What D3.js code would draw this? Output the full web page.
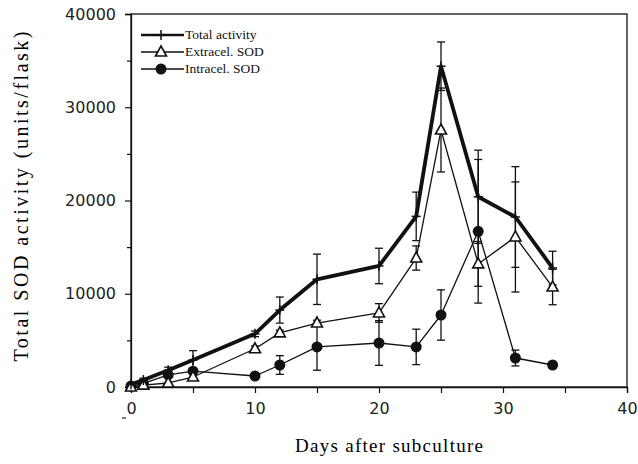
<!DOCTYPE html>
<html>
<head>
<meta charset="utf-8">
<script src="https://cdn.jsdelivr.net/npm/d3@7"></script>
<style>
  body { margin: 0; background: #fff; }
  svg { display: block; }
</style>
</head>
<body>
<div id="chart"></div>
<script>
// data
var days = [0, 1, 3, 5, 10, 12, 15, 20, 23, 25, 28, 31, 34];
var totalActivity = [300, 750, 1800, 2900, 5700, 8250, 11550, 12980, 18300, 34400, 20400, 18230, 12760];
var totalErr      = [0, 200, 330, 1000, 300, 1400, 2700, 1900, 2600, 2600, 5000, 5400, 1800];
var extracelSOD   = [0, 200, 430, 1070, 4100, 5800, 6860, 7940, 13830, 27560, 13200, 16090, 10720];
var extracelErr   = [0, 0, 0, 0, 300, 300, 300, 1000, 1300, 4500, 2400, 5900, 1900];
var intracelSOD   = [100, 400, 1290, 1700, 1180, 2360, 4300, 4720, 4300, 7720, 16700, 3110, 2360];
var intracelErr   = [0, 0, 0, 0, 300, 1000, 2500, 2400, 1900, 2700, 7700, 850, 0];

var xTicks = [0, 10, 20, 30, 40];
var yTicks = [0, 10000, 20000, 30000, 40000];
var legendLabels = ["Total activity", "Extracel. SOD", "Intracel. SOD"];

// set the dimensions and margins of the graph
var margin = { top: 14, right: 11, bottom: 77, left: 131 },
    width = 638 - margin.left - margin.right,
    height = 464 - margin.top - margin.bottom;

var svg = d3.select("#chart")
    .append("svg")
    .attr("width", 638)
    .attr("height", 464)
    .append("g")
    .attr("transform", "translate(" + margin.left + "," + margin.top + ")");

var x = d3.scaleLinear().domain([0, 40]).range([0, width]);
var y = d3.scaleLinear().domain([0, 40000]).range([height, 0]);

// frame
svg.append("rect")
    .attr("width", width)
    .attr("height", height)
    .attr("fill", "none")
    .attr("stroke", "#111")
    .attr("stroke-width", 1.3);

// axes
var xAxis = svg.append("g")
    .attr("transform", "translate(0," + height + ")")
    .call(d3.axisBottom(x).tickValues(d3.range(0, 41, 5)).tickSize(6).tickFormat(function(d){
        return xTicks.indexOf(d) >= 0 ? d : "";
    }));
var yAxis = svg.append("g")
    .call(d3.axisLeft(y).tickValues(d3.range(0, 40001, 5000)).tickSize(6).tickFormat(function(d){
        return yTicks.indexOf(d) >= 0 ? d : "";
    }));

[xAxis, yAxis].forEach(function(a){
    a.select(".domain").attr("stroke", "#111").attr("stroke-width", 1.3);
    a.selectAll(".tick line").attr("stroke", "#111").attr("stroke-width", 1.2);
    a.selectAll(".tick text")
        .attr("font-family", "DejaVu Sans, sans-serif")
        .attr("font-size", 16)
        .attr("fill", "#222");
});
yAxis.selectAll(".tick").filter(function(d){ return d % 10000 != 0; })
    .select("line").attr("x2", -4);
yAxis.selectAll(".tick text").attr("x", -15);
xAxis.selectAll(".tick text").attr("y", 16);

// axis titles
svg.append("text")
    .attr("x", width / 2 + 10)
    .attr("y", height + 65)
    .attr("text-anchor", "middle")
    .attr("font-family", "Liberation Serif, serif")
    .attr("font-size", 19)
    .attr("textLength", 188)
    .attr("lengthAdjust", "spacing")
    .text("Days after subculture");

svg.append("text")
    .attr("transform", "translate(" + (-103) + "," + (height / 2 - 4) + ") rotate(-90)")
    .attr("text-anchor", "middle")
    .attr("font-family", "Liberation Serif, serif")
    .attr("font-size", 20)
    .attr("textLength", 330)
    .attr("lengthAdjust", "spacing")
    .text("Total SOD activity (units/flask)");

var series = [
    { values: totalActivity, err: totalErr, width: 3.8, marker: "cross" },
    { values: extracelSOD, err: extracelErr, width: 1.3, marker: "triangle" },
    { values: intracelSOD, err: intracelErr, width: 1.3, marker: "circle" }
];

// error bars
series.forEach(function(s){
    var g = svg.append("g").attr("stroke", "#111").attr("stroke-width", 1.3);
    days.forEach(function(d, i){
        if (!s.err[i]) return;
        var cx = x(d), top = y(s.values[i] + s.err[i]), bot = y(Math.max(0, s.values[i] - s.err[i]));
        g.append("line").attr("x1", cx).attr("x2", cx).attr("y1", top).attr("y2", bot);
        g.append("line").attr("x1", cx - 4).attr("x2", cx + 4).attr("y1", top).attr("y2", top);
        g.append("line").attr("x1", cx - 4).attr("x2", cx + 4).attr("y1", bot).attr("y2", bot);
    });
});

var line = d3.line()
    .x(function(d){ return x(d[0]); })
    .y(function(d){ return y(d[1]); });

function drawMarker(g, type, cx, cy) {
    if (type == "cross") {
        g.append("line").attr("x1", cx - 4.5).attr("x2", cx + 4.5).attr("y1", cy).attr("y2", cy)
            .attr("stroke", "#111").attr("stroke-width", 1.5);
        g.append("line").attr("x1", cx).attr("x2", cx).attr("y1", cy - 5).attr("y2", cy + 5)
            .attr("stroke", "#111").attr("stroke-width", 1.5);
    } else if (type == "triangle") {
        g.append("path")
            .attr("d", "M" + cx + "," + (cy - 6) + "L" + (cx + 5.5) + "," + (cy + 4) + "L" + (cx - 5.5) + "," + (cy + 4) + "Z")
            .attr("fill", "#fff").attr("stroke", "#111").attr("stroke-width", 1.6);
    } else {
        g.append("circle").attr("cx", cx).attr("cy", cy).attr("r", 5.5).attr("fill", "#111");
    }
}

// lines and markers
series.slice().reverse().forEach(function(s){
    svg.append("path")
        .datum(days.map(function(d, i){ return [d, s.values[i]]; }))
        .attr("d", line)
        .attr("fill", "none")
        .attr("stroke", "#111")
        .attr("stroke-width", s.width)
        .attr("stroke-linejoin", "round");
    var g = svg.append("g");
    days.forEach(function(d, i){
        drawMarker(g, s.marker, x(d), y(s.values[i]));
    });
});

// legend
var legend = svg.append("g").attr("transform", "translate(10,0)");
series.forEach(function(s, i){
    var ly = 21 + i * 17;
    legend.append("line")
        .attr("x1", 0).attr("x2", 43).attr("y1", ly).attr("y2", ly)
        .attr("stroke", "#111").attr("stroke-width", s.width > 3 ? 2.5 : 1.3);
    drawMarker(legend, s.marker, 20, ly);
    legend.append("text")
        .attr("x", 44)
        .attr("y", ly + 4)
        .attr("font-family", "Liberation Serif, serif")
        .attr("font-size", 13.5)
        .attr("fill", "#111")
        .text(legendLabels[i]);
});

// small stray mark left of the x-axis zero
svg.append("line")
    .attr("x1", -9).attr("x2", -5).attr("y1", height + 31).attr("y2", height + 31)
    .attr("stroke", "#333").attr("stroke-width", 1.3);
</script>
</body>
</html>
